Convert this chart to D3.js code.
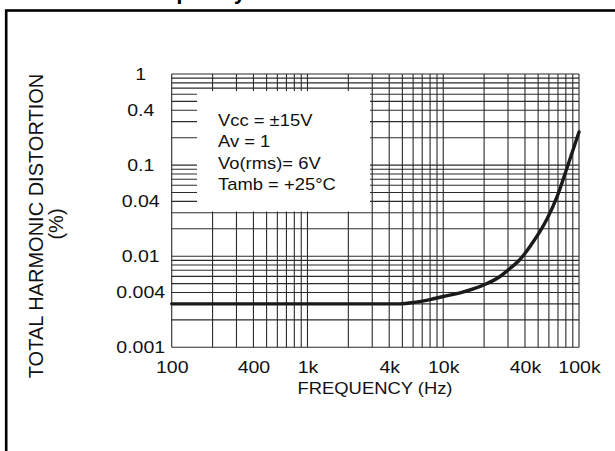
<!DOCTYPE html>
<html><head><meta charset="utf-8">
<script src="https://cdn.jsdelivr.net/npm/d3@7"></script>
<style>html,body{margin:0;padding:0;background:#fff;overflow:hidden}svg{display:block}</style>
</head><body><svg id="c" width="615" height="451"></svg>
<script>
// ---- data ----
const titleText = "Total Harmonic Distortion versus Frequency";
const xTitle = "FREQUENCY (Hz)";
const yTitle = "TOTAL HARMONIC DISTORTION";
const yUnit = "(%)";
const legendLines = ["Vcc = \u00B115V", "Av = 1", "Vo(rms)= 6V", "Tamb = +25\u00B0C"];
const xTickValues = [100, 400, 1000, 4000, 10000, 40000, 100000];
const xTickLabels = ["100", "400", "1k", "4k", "10k", "40k", "100k"];
const yTickValues = [1, 0.4, 0.1, 0.04, 0.01, 0.004, 0.001];
const yTickLabels = ["1", "0.4", "0.1", "0.04", "0.01", "0.004", "0.001"];
const xDecades = [100, 1000, 10000];
const yDecades = [0.001, 0.01, 0.1];
const gridMultipliers = [1, 2, 3, 4, 5, 6, 7, 8, 9];
const freq = [100, 1000, 4000, 4800, 6270, 8000, 10000, 13290, 16650, 21000, 26180, 31020, 36760, 44300, 51620, 58100, 68850, 81560, 90300, 100000];
const thd  = [0.003, 0.003, 0.003, 0.003, 0.00313, 0.00334, 0.00361, 0.00396, 0.00437, 0.00502, 0.00599, 0.00733, 0.0092, 0.01327, 0.01867, 0.02561, 0.04466, 0.0929, 0.1465, 0.231];

// ---- layout ----
const W = 615, H = 451;
const plot = {left: 171.7, right: 579, top: 74, bottom: 347.3};
const sx = 1.15; // horizontal glyph stretch seen in the reference
const font = "'Liberation Sans', Arial, Helvetica, sans-serif";

const svg = d3.select("#c");
const x = d3.scaleLog().domain([100, 100000]).range([plot.left, plot.right]);
const y = d3.scaleLog().domain([0.001, 1]).range([plot.bottom, plot.top]);

// outer frame
svg.append("rect").attr("x", 6.2).attr("y", 10.5).attr("width", 800).attr("height", 800)
  .attr("fill", "none").attr("stroke", "#000").attr("stroke-width", 2.6);

// title (cut off at the top, as in the reference)
svg.append("text").attr("x", 246).attr("y", -1.5).attr("text-anchor", "end")
  .attr("font-family", font).attr("font-weight", "bold").attr("font-size", 22)
  .text(titleText);

// grid
const xGrid = [];
xDecades.forEach(d => gridMultipliers.forEach(m => xGrid.push(d * m)));
xGrid.push(100000);
const yGrid = [];
yDecades.forEach(d => gridMultipliers.forEach(m => yGrid.push(d * m)));
yGrid.push(1);

const grid = svg.append("g").attr("stroke", "#2b2b2b").attr("stroke-width", 1.1);
grid.selectAll("line.v").data(xGrid).join("line").attr("class", "v")
  .attr("x1", d => x(d)).attr("x2", d => x(d))
  .attr("y1", plot.top).attr("y2", plot.bottom);
grid.selectAll("line.h").data(yGrid).join("line").attr("class", "h")
  .attr("x1", plot.left).attr("x2", plot.right)
  .attr("y1", d => y(d)).attr("y2", d => y(d));

// legend box masking the grid
const lg = svg.append("g");
lg.append("rect").attr("x", 197).attr("y", 91).attr("width", 173).attr("height", 120.5).attr("fill", "#fff");
legendLines.forEach((t, i) => {
  lg.append("text")
    .attr("transform", `translate(218,${125.7 + i * 21.45}) scale(${sx},1)`)
    .attr("font-family", font).attr("font-size", 16).attr("fill", "#111")
    .text(t);
});

// curve
svg.append("path").datum(freq.map((f, i) => [f, thd[i]]))
  .attr("fill", "none").attr("stroke", "#1a1a1a").attr("stroke-width", 3.4)
  .attr("stroke-linecap", "round").attr("stroke-linejoin", "round")
  .attr("d", d3.line().x(d => x(d[0])).y(d => y(d[1])).curve(d3.curveMonotoneX));

// axes
const xAxis = svg.append("g").attr("transform", `translate(0,${plot.bottom})`)
  .call(d3.axisBottom(x).tickValues(xTickValues).tickSize(0).tickPadding(14)
    .tickFormat((d, i) => xTickLabels[i]));
xAxis.select(".domain").remove();
xAxis.selectAll("text").attr("font-family", font).attr("font-size", 17).attr("fill", "#111")
  .attr("transform", `scale(${sx},1)`);

const yAxis = svg.append("g").attr("transform", `translate(${plot.left},0)`)
  .call(d3.axisLeft(y).tickValues(yTickValues).tickSize(0)
    .tickFormat((d, i) => yTickLabels[i]));
yAxis.select(".domain").remove();
yAxis.selectAll("text").attr("font-family", font).attr("font-size", 17).attr("fill", "#111")
  .attr("text-anchor", "middle").attr("x", -31 / sx)
  .attr("transform", `scale(${sx},1)`);

// axis titles
svg.append("text").attr("transform", `translate(375,394) scale(${sx},1)`)
  .attr("text-anchor", "middle").attr("font-family", font).attr("font-size", 16).attr("fill", "#111")
  .text(xTitle);
svg.append("text").attr("transform", "translate(43,226) rotate(-90)")
  .attr("text-anchor", "middle").attr("font-family", font).attr("font-size", 20).attr("fill", "#111")
  .text(yTitle);
svg.append("text").attr("transform", "translate(63,224) rotate(-90)")
  .attr("text-anchor", "middle").attr("font-family", font).attr("font-size", 20).attr("fill", "#111")
  .text(yUnit);
</script></body></html>
